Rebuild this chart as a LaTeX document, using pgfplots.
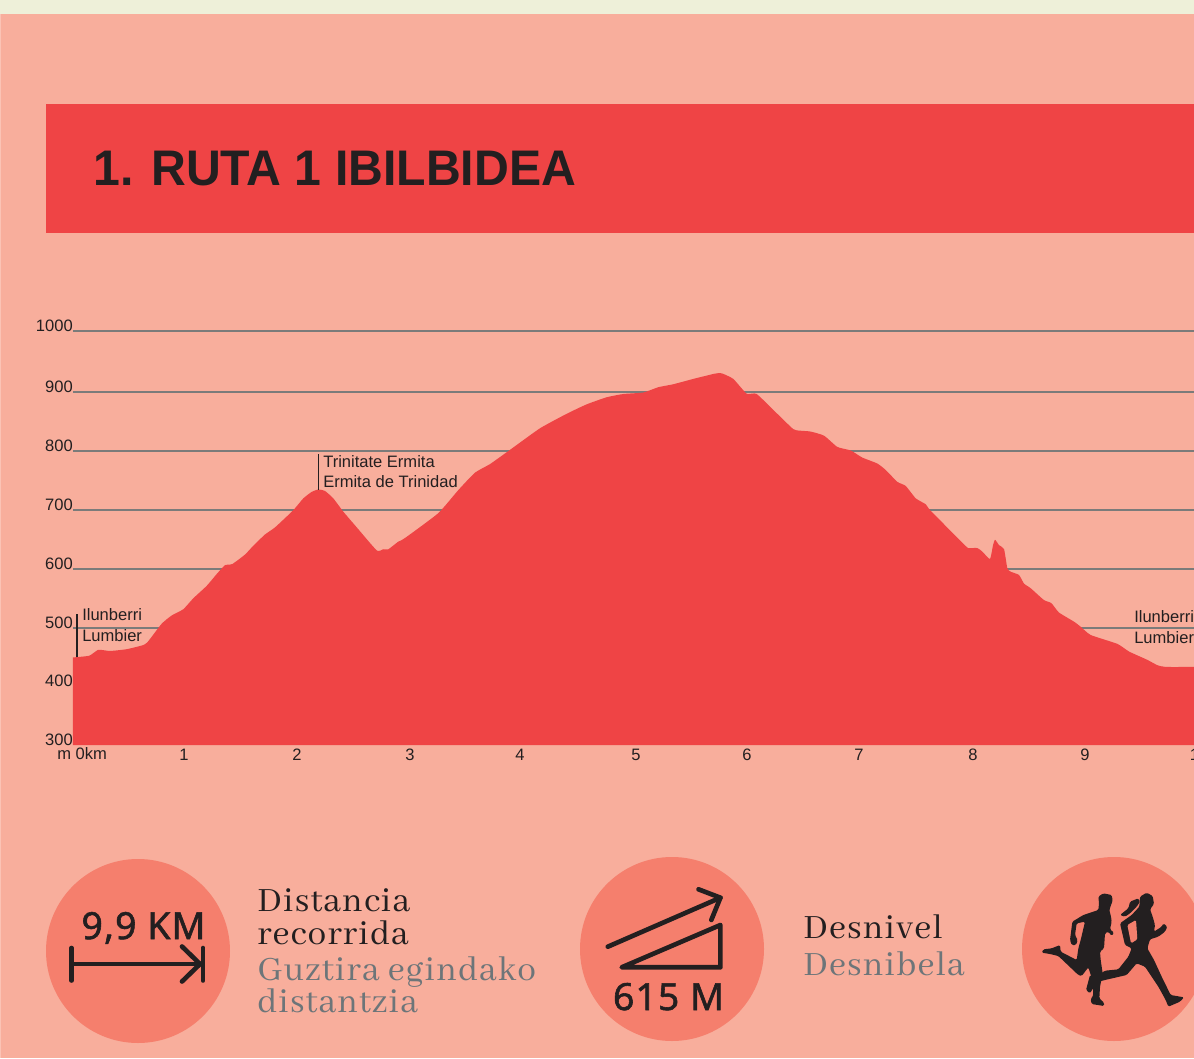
\documentclass[border=0pt]{standalone}
\usepackage{fontspec}
\usepackage{graphicx}
\usepackage{pgfplots}
\pgfplotsset{compat=1.18}
\setmainfont{Liberation Sans}
\newfontfamily\iconfont[LetterSpace=3,FakeBold=1.5]{Noto Sans}
\newfontfamily\serifbody[LetterSpace=3]{Abhaya Libre}
\definecolor{bgpink}{HTML}{F8AE9C}
\definecolor{edgepink}{HTML}{FBC3B5}
\definecolor{cream}{HTML}{EEF0D9}
\definecolor{routered}{HTML}{EF4445}
\definecolor{disc}{HTML}{F57F6D}
\definecolor{ink}{HTML}{231F20}
\definecolor{greytext}{HTML}{6D7579}
\definecolor{gridgrey}{HTML}{7B7B7A}
\pgfplotstableread{
km m
0.000 448
0.145 451
0.225 461
0.329 459
0.477 462
0.625 469
0.667 475
0.788 505
0.877 519
0.980 529.5
1.069 548
1.188 569
1.277 589
1.351 604
1.416 606
1.529 622
1.603 637
1.707 656
1.796 668
1.958 697
2.047 717
2.122 728
2.180 732
2.240 729.5
2.314 717
2.403 694.5
2.522 668
2.700 629
2.758 631
2.803 631
2.892 644
2.907 645
2.966 652
3.247 692
3.425 731
3.573 760.5
3.707 775
3.884 799
4.151 835.5
4.388 860
4.566 876
4.744 888
4.892 893.5
5.069 896
5.203 905
5.336 910
5.514 919
5.707 928
5.766 928.5
5.869 919
5.988 894
6.077 893.5
6.255 861
6.403 834
6.462 831.5
6.557 830
6.676 823
6.794 804
6.913 798
7.016 786
7.149 776
7.224 765
7.327 745
7.402 738
7.491 717
7.580 707
7.624 696
7.935 636.5
7.964 633
8.038 633
8.083 627
8.151 614.5
8.178 638
8.196 647
8.231 638
8.276 631
8.305 599
8.335 593
8.409 587.5
8.453 573
8.513 565
8.631 545
8.696 540
8.764 524
8.898 508.5
8.957 500
9.046 486
9.283 471
9.387 458
9.549 444
9.638 435
9.713 432
9.964 432
}\elevation
\begin{document}
\begin{tikzpicture}[x=0.75pt,y=0.75pt]
\useasboundingbox (0,0) rectangle (1194,1058);
\clip (0,0) rectangle (1194,1058);
\fill[bgpink] (0,0) rectangle (1194,1058);
\fill[edgepink] (0,0) rectangle (1,1044);
\fill[cream] (0,1044) rectangle (1194,1058);
\fill[routered] (46,825) rectangle (1194,954);
\node[anchor=base west,inner sep=0pt,text=ink,font=\fontsize{37.5}{40}\selectfont\bfseries] at (93,872) {\scalebox{0.964}[1]{1. RUTA 1 IBILBIDEA}};

\begin{axis}[
    at={(54.75pt,234.75pt)},
    anchor=south west,
    scale only axis,
    width=860.625pt,
    height=310.5pt,
    xmin=0, xmax=10.2,
    ymin=300, ymax=1000,
    clip=false,
    axis line style={draw=none},
    major tick length=0pt,
    xtick={0.987,1.991,2.996,3.973,5.004,5.991,6.987,8.0,8.996,10.01},
    xticklabels={1,2,3,4,5,6,7,8,9,10},
    ytick={400,497.9,597.6,697.4,797.2,896.9,1000},
    yticklabels={400,500,600,700,800,900,1000},
    extra y ticks={300},
    extra y tick labels={300},
    extra y tick style={grid=none},
    ymajorgrids,
    grid style={draw=gridgrey,line width=1pt},
    tick label style={font=\fontsize{12.4}{14}\selectfont,text=ink},
    /pgf/number format/assume math mode=true,
    /pgf/number format/1000 sep={},
    yticklabel style={anchor=east,inner sep=0pt,xshift=0pt,yshift=3.9pt},
    xticklabel style={anchor=base,inner sep=0pt,yshift=-11.5pt},
]
\addplot[fill=routered,draw=none,smooth,tension=0.3] table[x=km,y=m] {\elevation} \closedcycle;
\draw[ink,line width=1pt] (axis cs:0.036,448) -- (axis cs:0.036,521.5);
\draw[ink,line width=1pt] (axis cs:2.18,732) -- (axis cs:2.18,792);
\end{axis}

% chart annotations
\begin{scope}[every node/.style={anchor=base west,inner sep=0pt,text=ink,font=\fontsize{12.4}{14}\selectfont}]
\node at (57,299) {m 0km};
\node at (82,438) {Ilunberri};
\node at (82,417) {Lumbier};
\node at (323,591) {Trinitate Ermita};
\node at (323,571) {Ermita de Trinidad};
\node at (1134,436) {Ilunberri};
\node at (1134,415) {Lumbier};
\end{scope}

% discs
\fill[disc] (138,107) circle[radius=92];
\fill[disc] (672,109) circle[radius=92];
\fill[disc] (1114,109) circle[radius=92];

% distance icon
\begin{scope}[draw=ink,line width=3.5pt,line cap=round,line join=round]
\draw (71.6,110) -- (71.6,77.5);
\draw (71.6,94) -- (200,94);
\draw (203,110) -- (203,77.5);
\draw (182,111.5) -- (200,94) -- (182,76.5);
% climb icon
\draw (607.8,111.3) -- (720.4,160.3);
\draw (698.5,168.7) -- (720.4,160.3) -- (711.3,138);
\draw (621.7,90.7) -- (720.4,90.7) -- (720.4,133) -- cycle;
\end{scope}
\node[anchor=base,inner sep=0pt,text=ink,font=\iconfont\fontsize{28}{30}\selectfont] at (143.5,119) {9,9 KM};
\node[anchor=base,inner sep=0pt,text=ink,font=\iconfont\fontsize{28}{30}\selectfont] at (668.5,48) {615 M};

% serif captions
\begin{scope}[every node/.style={anchor=base west,inner sep=0pt,font=\serifbody\fontsize{28}{30}\selectfont}]
\node[text=ink] at (257,146.3) {Distancia};
\node[text=ink] at (257,114) {recorrida};
\node[text=greytext] at (257,78) {Guztira egindako};
\node[text=greytext] at (257,46) {distantzia};
\node[text=ink] at (803,120) {Desnivel};
\node[text=greytext] at (803,82.3) {Desnibela};
\end{scope}

% runners, traced in a frame three times finer than the page
\begin{scope}[shift={(1030,178)},x=0.25pt,y=-0.25pt,rounded corners=1pt]
\fill[ink] (205,50) -- (220,40) -- (245,45) -- (248,62) -- (243,75) -- (238,90) -- (243,110) -- (245,125) -- (240,148)
  -- (252,158) -- (245,168) -- (235,155) -- (225,160) -- (222,205) -- (210,215) -- (212,240) -- (218,280) -- (210,320)
  -- (208,355) -- (222,368) -- (222,378) -- (185,372) -- (182,358) -- (190,345) -- (187,300) -- (175,262) -- (155,288)
  -- (145,285) -- (85,228) -- (60,222) -- (35,218) -- (40,208) -- (65,205) -- (90,195) -- (92,215) -- (140,240)
  -- (145,205) -- (152,180) -- (165,125) -- (140,130) -- (135,165) -- (143,180) -- (138,195) -- (125,195) -- (120,180)
  -- (127,125) -- (160,105) -- (205,90) -- (207,70) -- cycle;
\fill[ink] (330,50) -- (350,38) -- (368,48) -- (372,72) -- (360,88) -- (368,110) -- (375,135) -- (372,155) -- (395,140)
  -- (400,130) -- (412,140) -- (405,155) -- (385,170) -- (360,178) -- (352,205) -- (372,240) -- (395,290) -- (422,345)
  -- (462,352) -- (450,365) -- (415,380) -- (407,360) -- (385,320) -- (345,260) -- (320,250) -- (290,285) -- (225,300)
  -- (205,305) -- (192,320) -- (180,340) -- (168,330) -- (180,285) -- (190,288) -- (205,285) -- (225,272) -- (265,268)
  -- (295,230) -- (305,205) -- (285,195) -- (270,130) -- (305,105) -- (328,80) -- cycle;
\fill[ink] (270,105) -- (295,85) -- (300,65) -- (325,55) -- (330,65) -- (320,80) -- (300,100) -- (285,110) -- cycle;
\fill[disc] (292,135) -- (318,120) -- (322,178) -- (303,190) -- cycle;
\end{scope}
\end{tikzpicture}
\end{document}
